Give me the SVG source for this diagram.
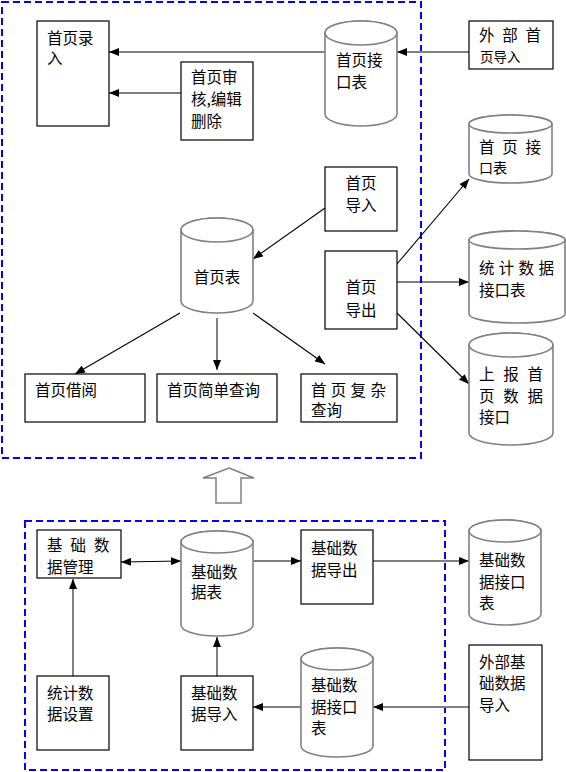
<svg xmlns="http://www.w3.org/2000/svg" width="566" height="772" viewBox="0 0 566 772">
<style>
text{font-family:"Noto Sans CJK SC","Noto Sans",sans-serif;font-size:15.5px;fill:#000}
.box{fill:#fff;stroke:#000;stroke-width:1.2}
.cyl{fill:#fff;stroke:#808080;stroke-width:1.6}
.grp{fill:none;stroke:#0000ff;stroke-width:2;stroke-dasharray:7 4}
.k{fill:none;stroke:#000;stroke-width:1.1;marker-end:url(#ah)}
.g{fill:none;stroke:#808080;stroke-width:2;marker-end:url(#ah)}
.c{text-anchor:middle}
</style>
<defs>
<marker id="ah" viewBox="0 0 10 8" refX="10" refY="4" markerWidth="10" markerHeight="8" markerUnits="userSpaceOnUse" orient="auto-start-reverse">
<path d="M0,0 L10,4 L0,8 z" fill="#000"/>
</marker>
</defs>
<rect width="566" height="772" fill="#fff"/>
<g id="groups">
<rect class="grp" x="2" y="2" width="419" height="456"/>
<rect class="grp" x="25" y="521" width="420" height="249"/>
<polygon points="229,468 254,478 241,478 241,503 216,503 216,478 203,478" fill="#fff" stroke="#808080" stroke-width="1.5"/>
</g>
<g id="connectors">
<line class="g" x1="325" y1="52" x2="109" y2="52"/>
<line class="k" x1="181" y1="93" x2="109" y2="93"/>
<line class="g" x1="469" y1="52" x2="397" y2="52"/>
<line class="k" x1="325" y1="208" x2="253" y2="259"/>
<line class="k" x1="397" y1="264" x2="469" y2="179"/>
<line class="k" x1="397" y1="282" x2="469" y2="282"/>
<line class="k" x1="397" y1="313" x2="469" y2="384"/>
<line class="k" x1="180" y1="313" x2="75" y2="374"/>
<line class="g" x1="217" y1="318" x2="217" y2="370"/>
<line class="k" x1="253" y1="313" x2="325" y2="364"/>
<line class="k" x1="121" y1="562" x2="181" y2="561" style="marker-start:url(#ah)"/>
<line class="k" x1="253" y1="561" x2="301" y2="561"/>
<line class="k" x1="373" y1="561" x2="469" y2="561"/>
<line class="g" x1="73" y1="676" x2="73" y2="579"/>
<line class="g" x1="217" y1="676" x2="217" y2="637"/>
<line class="g" x1="301" y1="707" x2="253" y2="707"/>
<line class="g" x1="469" y1="707" x2="373" y2="707"/>
</g>
<g id="n_syl">
<rect class="box" x="37" y="21" width="72" height="105"/>
<text x="47" y="43.5">首页录<tspan x="47" y="63.5">入</tspan></text>
</g>
<g id="n_sh">
<rect class="box" x="181" y="62" width="72" height="78"/>
<text x="191" y="83">首页审<tspan x="191" y="105">核,编辑</tspan><tspan x="191" y="127">删除</tspan></text>
</g>
<g id="n_jkb1">
<path class="cyl" d="M325,33 A36,12 0 0 1 397,33 L397,114 A36,12 0 0 1 325,114 Z"/>
<ellipse class="cyl" cx="361" cy="33" rx="36" ry="12"/>
<text x="336" y="65.5">首页接<tspan x="336" y="87.5">口表</tspan></text>
</g>
<g id="n_wbsy">
<rect class="box" x="469" y="21" width="84" height="48"/>
<text x="479" y="41" letter-spacing="7.75">外部首</text>
<text x="480" y="61.5" style="font-size:13.5px">页导入</text>
</g>
<g id="n_jkb2">
<path class="cyl" d="M469,124 A41.5,9 0 0 1 552,124 L552,174 A41.5,9 0 0 1 469,174 Z"/>
<ellipse class="cyl" cx="510.5" cy="124" rx="41.5" ry="9"/>
<text x="479" y="153" letter-spacing="7.75">首页接</text>
<text x="479" y="172.5" style="font-size:14px">口表</text>
</g>
<g id="n_sydr">
<rect class="box" x="325" y="167" width="72" height="64"/>
<text class="c" x="361" y="188.5">首页<tspan x="361" y="210.5">导入</tspan></text>
</g>
<g id="n_syb">
<path class="cyl" d="M181,230 A36,12 0 0 1 253,230 L253,301 A36,12 0 0 1 181,301 Z"/>
<ellipse class="cyl" cx="217" cy="230" rx="36" ry="12"/>
<text class="c" x="217" y="282.5">首页表</text>
</g>
<g id="n_sydc">
<rect class="box" x="325" y="251" width="72" height="78"/>
<text class="c" x="361" y="292.5">首页<tspan x="361" y="315.5">导出</tspan></text>
</g>
<g id="n_tjjk">
<path class="cyl" d="M469,240 A48,9 0 0 1 565,240 L565,314 A48,9 0 0 1 469,314 Z"/>
<ellipse class="cyl" cx="517" cy="240" rx="48" ry="9"/>
<text x="479" y="273.5" letter-spacing="4.3">统计数据</text>
<text x="479" y="295.5">接口表</text>
</g>
<g id="n_sb">
<path class="cyl" d="M469,345 A42,12 0 0 1 553,345 L553,433 A42,12 0 0 1 469,433 Z"/>
<ellipse class="cyl" cx="511" cy="345" rx="42" ry="12"/>
<text x="479" y="379.5" letter-spacing="8.7">上报首</text>
<text x="479" y="401.5" letter-spacing="8.7">页数据</text>
<text x="479" y="422.5">接口</text>
</g>
<g id="n_jy">
<rect class="box" x="25" y="374" width="120" height="48"/>
<text x="35" y="395.5">首页借阅</text>
</g>
<g id="n_jdcx">
<rect class="box" x="157" y="374" width="120" height="48"/>
<text x="167" y="395.5">首页简单查询</text>
</g>
<g id="n_fzcx">
<rect class="box" x="301" y="374" width="96" height="48"/>
<text x="311" y="395.5" letter-spacing="4.3">首页复杂</text>
<text x="311" y="415.5">查询</text>
</g>
<g id="n_jcgl">
<rect class="box" x="37" y="530" width="84" height="48"/>
<text x="47" y="550.5" letter-spacing="8">基础数</text>
<text x="47" y="572.5">据管理</text>
</g>
<g id="n_jcb">
<path class="cyl" d="M181,542 A36,11 0 0 1 253,542 L253,625 A36,11 0 0 1 181,625 Z"/>
<ellipse class="cyl" cx="217" cy="542" rx="36" ry="11"/>
<text x="191" y="577.5">基础数<tspan x="191" y="597.5">据表</tspan></text>
</g>
<g id="n_jcdc">
<rect class="box" x="301" y="530" width="72" height="74"/>
<text x="311" y="553.5">基础数<tspan x="311" y="575.5">据导出</tspan></text>
</g>
<g id="n_jcjk1">
<path class="cyl" d="M469,531 A36,11 0 0 1 541,531 L541,614 A36,11 0 0 1 469,614 Z"/>
<ellipse class="cyl" cx="505" cy="531" rx="36" ry="11"/>
<text x="479" y="565.5">基础数<tspan x="479" y="587.5">据接口</tspan><tspan x="479" y="608.5">表</tspan></text>
</g>
<g id="n_tjsz">
<rect class="box" x="37" y="676" width="72" height="74"/>
<text x="47" y="698.5">统计数<tspan x="47" y="719.5">据设置</tspan></text>
</g>
<g id="n_jcdr">
<rect class="box" x="181" y="676" width="72" height="74"/>
<text x="191" y="698.5">基础数<tspan x="191" y="719.5">据导入</tspan></text>
</g>
<g id="n_jcjk2">
<path class="cyl" d="M301,659 A36,11 0 0 1 373,659 L373,746 A36,11 0 0 1 301,746 Z"/>
<ellipse class="cyl" cx="337" cy="659" rx="36" ry="11"/>
<text x="311" y="690.5">基础数<tspan x="311" y="712.5">据接口</tspan><tspan x="311" y="733.5">表</tspan></text>
</g>
<g id="n_wbjc">
<rect class="box" x="469" y="645" width="73" height="115"/>
<text x="479" y="667.5">外部基<tspan x="479" y="688.5">础数据</tspan><tspan x="479" y="710.5">导入</tspan></text>
</g>
</svg>
